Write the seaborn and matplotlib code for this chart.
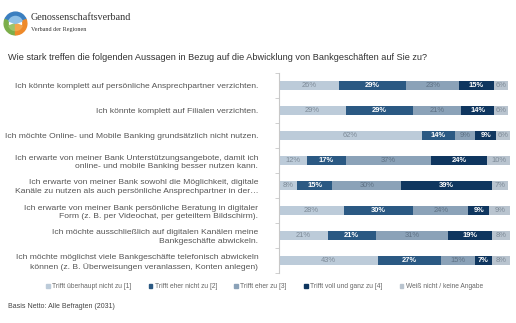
import numpy as np
import pandas as pd
import matplotlib
matplotlib.use("Agg")
import matplotlib.pyplot as plt
from matplotlib.patches import Wedge
import seaborn as sns

statements = [
    "Ich könnte komplett auf persönliche Ansprechpartner verzichten.",
    "Ich könnte komplett auf Filialen verzichten.",
    "Ich möchte Online- und Mobile Banking grundsätzlich nicht nutzen.",
    "Ich erwarte von meiner Bank Unterstützungsangebote, damit ich\nonline- und mobile Banking besser nutzen kann.",
    "Ich erwarte von meiner Bank sowohl die Möglichkeit, digitale\nKanäle zu nutzen als auch persönliche Ansprechpartner in der…",
    "Ich erwarte von meiner Bank persönliche Beratung in digitaler\nForm (z. B. per Videochat, per geteiltem Bildschirm).",
    "Ich möchte ausschließlich auf digitalen Kanälen meine\nBankgeschäfte abwickeln.",
    "Ich möchte möglichst viele Bankgeschäfte telefonisch abwickeln\nkönnen (z. B. Überweisungen veranlassen, Konten anlegen)",
]
answers = [
    "Trifft überhaupt nicht zu [1]",
    "Trifft eher nicht zu [2]",
    "Trifft eher zu [3]",
    "Trifft voll und ganz zu [4]",
    "Weiß nicht / keine Angabe",
]
not_at_all = [26, 29, 62, 12, 8, 28, 21, 43]
rather_not = [29, 29, 14, 17, 15, 30, 21, 27]
rather_yes = [23, 21, 9, 37, 30, 24, 31, 15]
fully = [15, 14, 9, 24, 39, 9, 19, 7]
dont_know = [6, 6, 6, 10, 7, 9, 8, 8]

title = "Wie stark treffen die folgenden Aussagen in Bezug auf die Abwicklung von Bankgeschäften auf Sie zu?"
footnote = "Basis Netto: Alle Befragten (2031)"

colors = ["#bccbd9", "#2b5983", "#8ba2b8", "#0f365f", "#b9c4cf"]
label_colors = ["#7d8a97", "white", "#5e7184", "white", "#7d8a97"]
label_weights = ["normal", "bold", "normal", "bold", "normal"]

sns.set_theme(style="white")
plt.rcParams["font.family"] = ["Liberation Sans", "DejaVu Sans"]

series = [not_at_all, rather_not, rather_yes, fully, dont_know]
df = pd.DataFrame({a: v for a, v in zip(answers, series)})
df["statement"] = statements
cum = df[answers].cumsum(axis=1)

fig = plt.figure(figsize=(5.16, 3.23), dpi=100)
W, H = 516, 323
ax = fig.add_axes([279 / W, 1 - 273 / H, 231 / W, 200 / H])

# stacked bars: overlay cumulative totals from the outermost segment inwards
for i in range(len(answers) - 1, -1, -1):
    sns.barplot(x=cum[answers[i]], y=df["statement"], orient="h",
                color=colors[i], width=0.37, saturation=1, ax=ax,
                linewidth=0)

for i, a in enumerate(answers):
    starts = cum[a] - df[a]
    for j, (s, v) in enumerate(zip(starts, df[a])):
        ax.text(s + v / 2, j, f"{v}%", ha="center", va="center",
                fontsize=5.4, color=label_colors[i], fontweight=label_weights[i])

ax.set_xlim(0, 100)
ax.set_ylim(len(statements) - 0.5, -0.5)
ax.set_xlabel("")
ax.set_ylabel("")
ax.set_xticks([])
for side in ["top", "right", "bottom"]:
    ax.spines[side].set_visible(False)
ax.spines["left"].set_color("#c8c8c8")
ax.spines["left"].set_linewidth(0.8)
ax.set_yticks(np.arange(len(statements)))
ax.set_yticklabels(statements, fontsize=6.1, color="#555555", ha="right",
                   linespacing=1.3)
ax.tick_params(axis="y", which="major", length=0, pad=15)
ax.set_yticks(np.arange(len(statements) + 1) - 0.5, minor=True)
ax.tick_params(axis="y", which="minor", length=3, width=0.6, color="#c8c8c8",
               left=True)

# legend row
handles = [plt.Rectangle((0, 0), 1, 1, color=c) for c in colors]
leg = fig.legend(handles, answers, loc="center left",
                 bbox_to_anchor=(40 / W, 1 - 287 / H), ncol=5, frameon=False,
                 fontsize=4.8, handlelength=0.55, handleheight=0.55,
                 handletextpad=0.35, columnspacing=2.6, labelcolor="#666666")

fig.text(8 / W, 1 - 57 / H, title, fontsize=6.55, color="#333333", va="center")
fig.text(8 / W, 1 - 307 / H, footnote, fontsize=5.0, color="#444444",
         va="center")

# organisation mark
lax = fig.add_axes([3 / W, 1 - 36 / H, 25 / W, 25 / H])
lax.set_xlim(-1.1, 1.1)
lax.set_ylim(-1.1, 1.1)
lax.set_aspect("equal")
lax.axis("off")
lax.add_patch(Wedge((0, 0), 1.0, 20, 160, width=0.35, color="#3b7fc0"))
lax.add_patch(Wedge((0, 0), 1.0, 160, 270, width=0.35, color="#7cae4a"))
lax.add_patch(Wedge((0, 0), 1.0, 270, 380, width=0.35, color="#ee8a2a"))
lax.add_patch(Wedge((0, 0), 0.62, 200, 270, color="#9cc46b"))
lax.add_patch(Wedge((0, 0), 0.62, 270, 340, color="#f3a64c"))
lax.add_patch(Wedge((0, 0), 0.62, 20, 160, color="#8fc0e6"))
fig.text(31 / W, 1 - 18 / H, "Genossenschaftsverband", fontsize=7.3,
         family="Liberation Serif", color="#333333", va="center")
fig.text(31 / W, 1 - 29 / H, "Verband der Regionen", fontsize=4.4,
         family="Liberation Serif", color="#333333", va="center")

fig.savefig("out.png", dpi=100, facecolor="white")
